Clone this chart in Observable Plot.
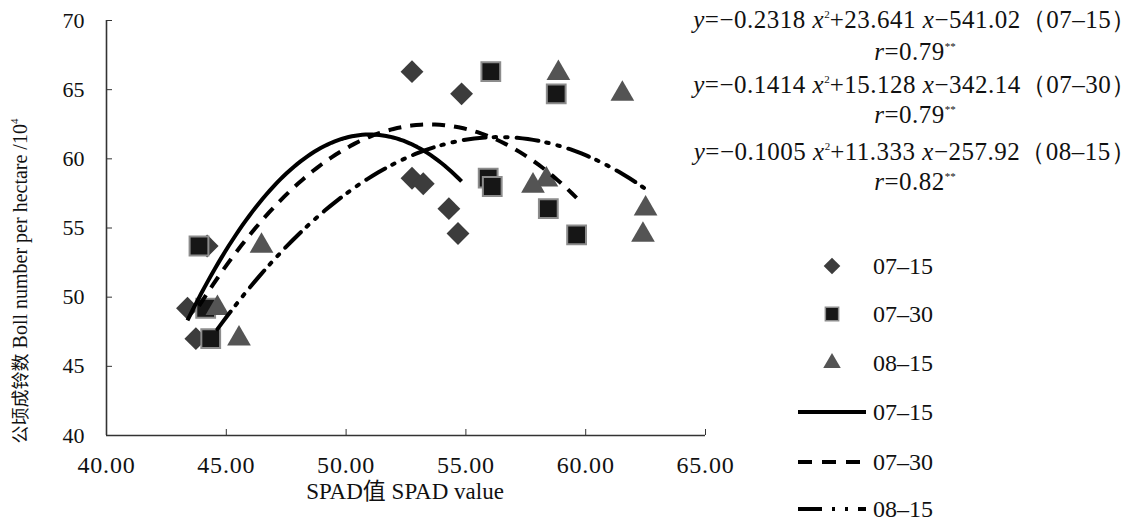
<!DOCTYPE html>
<html><head><meta charset="utf-8">
<script src="https://cdn.jsdelivr.net/npm/d3@7"></script>
<script src="https://cdn.jsdelivr.net/npm/@observablehq/plot@0.6"></script>
<style>
body{margin:0;background:#fff;}
#wrap{position:relative;width:1148px;height:523px;overflow:hidden;font-family:'Liberation Serif',serif;color:#111;}
#wrap > svg{position:absolute;left:0;top:0;}
.abs{position:absolute;white-space:nowrap;font-family:'Liberation Serif',serif;}
.eq{font-size:25px;letter-spacing:0.5px;text-align:center;width:480px;left:675px;line-height:26px;}
.eq sup{font-size:11px;vertical-align:10px;line-height:0;letter-spacing:0;}
.cjk{font-family:'Noto Sans CJK SC',sans-serif;}
</style>
</head><body>
<div id="wrap"></div>
<script>
// ---- data ----
const dates = ["07–15", "07–30", "08–15"];
const spad0715 = [52.75, 54.82, 52.75, 53.22, 54.29, 54.67, 44.20, 43.38, 43.73];
const boll0715 = [66.3, 64.7, 58.6, 58.2, 56.4, 54.6, 53.7, 49.2, 47.0];
const spad0730 = [56.04, 58.77, 55.93, 56.10, 58.44, 59.62, 43.86, 44.14, 44.35];
const boll0730 = [66.3, 64.7, 58.6, 58.0, 56.4, 54.5, 53.7, 49.2, 47.0];
const spad0815 = [58.86, 61.53, 58.36, 57.80, 62.50, 62.39, 46.47, 44.63, 45.53];
const boll0815 = [66.2, 64.7, 58.5, 58.05, 56.4, 54.5, 53.7, 49.2, 47.0];
// fitted equations printed on the chart: y = a x^2 + b x + c
const coefA = [-0.2318, -0.1414, -0.1005];
const coefB = [23.641, 15.128, 11.333];
const coefC = [-541.02, -342.14, -257.92];
const rValues = ["0.79", "0.79", "0.82"];
const xTicks = [40, 45, 50, 55, 60, 65];
const yTicks = [40, 45, 50, 55, 60, 65, 70];

const spads = [spad0715, spad0730, spad0815];
const bolls = [boll0715, boll0730, boll0815];
const points = spads.map((xs, i) => xs.map((x, j) => ({x, y: bolls[i][j], date: dates[i]})));

// trend curves drawn from the printed coefficients over each series' SPAD range
const curves = spads.map((xs, i) => {
  const lo = d3.min(xs), hi = d3.max(xs);
  return d3.range(0, 81).map(k => {
    const x = lo + (hi - lo) * k / 80;
    return {x, y: coefA[i] * x * x + coefB[i] * x + coefC[i]};
  });
});

const symbols = ["diamond2", "square", "triangle"];
const fills = ["#3c3c3c", "#161616", "#545454"];
const strokes = ["none", "#8c8c8c", "none"];
const radii = [10.3, 10.6, 8.8];
const dashes = [null, "13,9", "22,8,2.5,9,2.5,9"];

const font = "Liberation Serif, serif";

const chart = Plot.plot({
  width: 1148, height: 523,
  marginLeft: 106, marginRight: 443, marginTop: 20, marginBottom: 88,
  x: {domain: [40, 65]},
  y: {domain: [40, 70]},
  style: {fontFamily: font, fontSize: "22px", color: "#111", background: "transparent", overflow: "visible"},
  marks: [
    Plot.axisX({ticks: xTicks, tickFormat: d3.format(".2f"), tickSize: -6, tickPadding: 26, label: null, fontSize: 24, fontFamily: font, stroke: "#333"}),
    Plot.axisY({ticks: yTicks, tickSize: -6, tickPadding: 28, label: null, fontSize: 22, fontFamily: font, stroke: "#333"}),
    Plot.ruleX([40], {stroke: "#333", strokeWidth: 1.6}),
    Plot.ruleY([40], {stroke: "#333", strokeWidth: 1.6}),
    ...points.map((pts, i) => Plot.dot(pts, {x: "x", y: "y", symbol: symbols[i], r: radii[i], fill: fills[i], stroke: strokes[i], strokeWidth: 2})),
    ...curves.map((c, i) => Plot.line(c, {x: "x", y: "y", stroke: "#000", strokeWidth: 4, strokeDasharray: dashes[i], strokeLinecap: i === 2 ? "round" : "butt", curve: "linear"}))
  ]
});
chart.querySelectorAll("text").forEach(t => t.setAttribute("font-family", "Liberation Serif"));
chart.querySelectorAll("g[aria-label='x-axis tick label'] text").forEach(t => t.setAttribute("letter-spacing", "0.8"));
chart.style.fontFamily = "'Liberation Serif', serif";

const wrap = document.getElementById("wrap");
wrap.appendChild(chart);

function add(html, cls, style) {
  const d = document.createElement("div");
  d.className = "abs " + cls;
  d.innerHTML = html;
  Object.assign(d.style, style);
  wrap.appendChild(d);
  return d;
}

// axis titles
add('SPAD<span class="cjk">值</span> SPAD value', "", {fontSize: "23px", left: "255px", width: "300px", textAlign: "center", top: "472px"});
add('<span class="cjk" style="font-size:18px">公顷成铃数</span> Boll number per hectare /10<sup style="font-size:11px;vertical-align:9px;line-height:0">4</sup>', "",
  {fontSize: "20px", width: "400px", textAlign: "center", left: "-181px", top: "268px", lineHeight: "26px", transform: "rotate(-90deg)", transformOrigin: "200px 13px"});

// equations
const fmt = (v, d) => (v < 0 ? "−" : "+") + Math.abs(v).toFixed(d);
const eqTops = [7, 39, 72, 102, 139, 169];
dates.forEach((dt, i) => {
  add(`<i>y</i>=${fmt(coefA[i], 4)} <i>x</i><sup>2</sup>${fmt(coefB[i], 3)} <i>x</i>${fmt(coefC[i], 2)}（${dt}）`, "eq", {top: eqTops[2 * i] + "px"});
  add(`<i>r</i>=${rValues[i]}<sup>**</sup>`, "eq", {top: eqTops[2 * i + 1] + "px"});
});

// legend
const rowsY = [266, 314, 363, 412, 462, 509];
const ns = "http://www.w3.org/2000/svg";
const lsvg = document.createElementNS(ns, "svg");
lsvg.setAttribute("width", 1148); lsvg.setAttribute("height", 523);
lsvg.style.position = "absolute"; lsvg.style.left = "0"; lsvg.style.top = "0";
wrap.appendChild(lsvg);
const sym = [d3.symbolDiamond2, d3.symbolSquare, d3.symbolTriangle];
const legR = [7.5, 7.5, 6.5];
dates.forEach((dt, i) => {
  const p = document.createElementNS(ns, "path");
  p.setAttribute("d", d3.symbol(sym[i], Math.PI * legR[i] * legR[i])());
  p.setAttribute("transform", `translate(832,${rowsY[i]})`);
  p.setAttribute("fill", fills[i]);
  if (strokes[i] !== "none") { p.setAttribute("stroke", strokes[i]); p.setAttribute("stroke-width", 1.5); }
  lsvg.appendChild(p);
  const l = document.createElementNS(ns, "line");
  l.setAttribute("x1", 798); l.setAttribute("x2", 866);
  l.setAttribute("y1", rowsY[3 + i]); l.setAttribute("y2", rowsY[3 + i]);
  l.setAttribute("stroke", "#000"); l.setAttribute("stroke-width", 4);
  if (dashes[i]) l.setAttribute("stroke-dasharray", i === 1 ? "14,10" : "24,10,3,10,3,10");
  lsvg.appendChild(l);
});
dates.concat(dates).forEach((dt, i) => {
  const t = document.createElementNS(ns, "text");
  t.setAttribute("x", 873); t.setAttribute("y", rowsY[i]);
  t.setAttribute("dy", "0.35em");
  t.setAttribute("font-family", "Liberation Serif");
  t.setAttribute("font-size", 24);
  t.setAttribute("fill", "#111");
  t.textContent = dt;
  lsvg.appendChild(t);
});
</script>
</body></html>
